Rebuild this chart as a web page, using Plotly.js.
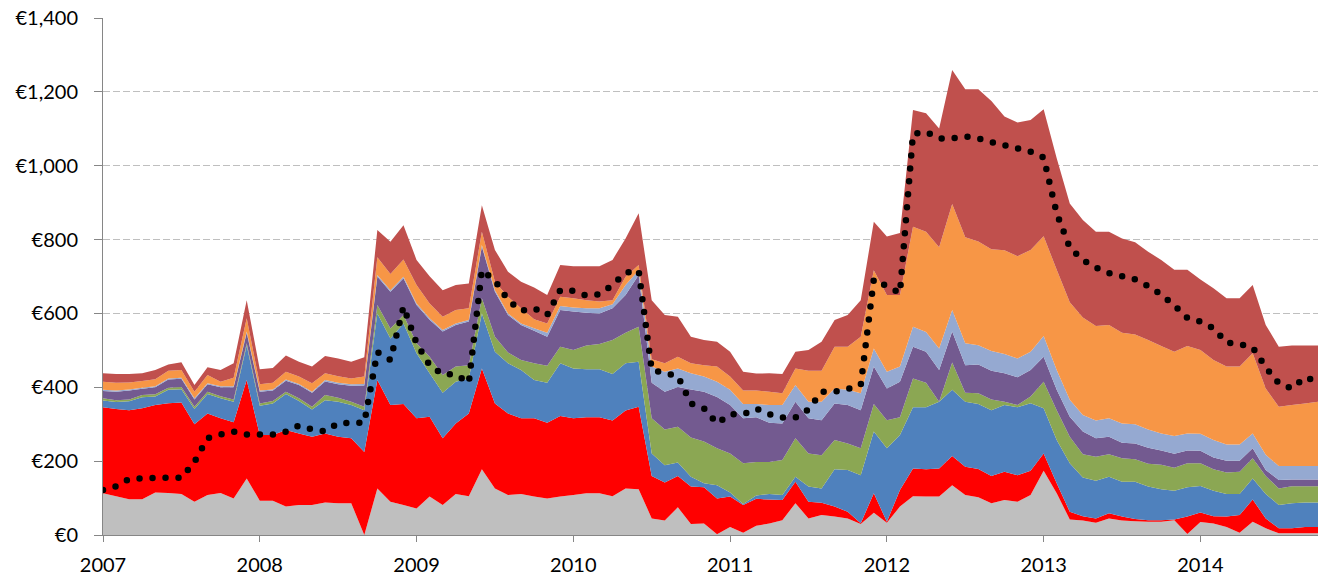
<!DOCTYPE html>
<html><head><meta charset="utf-8">
<script src="https://cdn.plot.ly/plotly-3.0.1.min.js"></script>
<style>
html,body{margin:0;padding:0;background:#fff;}
#chart{width:1324px;height:579px;}
.scatterlayer .js-line{stroke-linecap:round !important;}
</style></head><body><div id="chart"></div>
<script>
// Monthly data, Jan 2007 .. Oct 2014 (94 months)
const yearLabels = ['2007','2008','2009','2010','2011','2012','2013','2014'];
const startYear = 2007;

const gray = [113,105,97,97,115,114,111,90,108,114,99,153,93,93,77,81,81,
  88,86,86,0,126,90,81,72,104,81,111,105,178,126,108,111,
  104,99,104,108,113,113,105,126,124,45,39,75,30,31,2,22,6,25,
  31,40,86,45,54,50,45,30,60,33,77,105,104,104,135,108,102,
  86,95,90,108,174,113,42,39,33,45,39,37,36,36,40,3,35,
  31,22,6,36,18,5,5,5,5];
const red = [233,236,241,246,237,243,248,210,221,202,206,267,178,178,207,194,185,
  187,180,176,225,294,262,274,244,216,181,191,224,273,230,221,205,
  212,205,218,208,206,206,205,211,223,115,103,85,101,98,97,82,75,73,
  65,55,58,45,33,27,18,2,53,3,45,75,74,76,79,77,77,
  74,76,72,66,47,27,21,12,12,14,11,6,4,4,2,47,26,
  20,28,48,60,27,13,13,17,17];
const blue = [18,19,24,30,23,36,36,41,53,54,56,93,79,85,98,88,74,
  90,95,90,113,180,180,218,176,118,123,113,95,149,140,136,131,
  104,108,143,135,130,130,126,128,122,61,47,36,27,11,36,11,3,9,
  15,13,14,41,39,101,113,130,167,199,149,166,168,181,179,176,176,
  178,181,184,183,122,117,131,105,102,99,94,101,91,84,78,79,72,
  69,61,57,57,66,63,68,66,66];
const green = [6,5,5,6,6,6,6,6,6,6,6,6,6,7,6,7,7,
  14,11,9,9,23,27,23,27,45,48,41,36,41,41,29,27,
  45,46,45,50,64,68,92,83,95,95,97,97,106,113,100,106,110,91,
  87,95,104,90,90,79,72,73,75,76,48,78,66,0,74,24,29,
  29,9,6,18,72,81,72,63,65,61,64,61,62,66,62,65,61,
  58,58,60,55,49,45,46,44,44];
const purple = [20,23,24,17,19,22,22,20,20,24,33,29,32,28,30,36,38,
  37,36,43,58,77,100,99,104,100,118,113,118,140,122,102,95,
  88,79,99,104,89,83,86,102,140,96,102,108,130,135,139,131,122,121,
  106,99,99,95,95,99,104,103,101,86,96,86,84,86,84,75,78,
  78,77,75,72,68,55,54,61,50,47,42,43,43,39,38,35,34,
  32,32,30,27,16,23,18,18,18];
const lightBlue = [3,3,3,3,3,3,3,3,3,3,3,3,3,3,3,3,3,
  4,4,4,4,4,4,4,4,4,4,4,4,4,4,4,4,
  7,11,11,11,12,14,11,27,13,44,54,50,44,41,41,41,39,36,
  48,50,45,45,50,41,41,46,49,45,41,54,54,58,58,59,52,
  53,52,51,49,56,54,46,45,48,50,52,52,50,46,48,46,46,
  47,44,44,40,41,38,37,37,37];
const orange = [22,21,19,18,19,21,21,18,22,12,23,36,17,18,21,20,23,
  18,18,16,20,48,44,47,50,40,36,36,32,36,23,45,41,
  24,25,25,25,22,18,11,22,14,20,23,32,27,31,41,36,36,36,
  36,32,45,84,84,113,117,153,212,208,194,271,271,274,287,287,281,
  276,281,277,276,270,271,264,264,256,253,246,243,242,237,228,237,227,
  217,211,211,217,180,160,165,169,174];
const darkRed = [23,24,23,21,25,17,21,18,21,32,39,49,41,40,44,40,45,
  47,48,45,52,74,87,93,68,74,72,68,67,72,86,68,72,
  86,77,86,87,92,96,109,104,140,160,131,108,72,68,67,67,51,46,
  50,52,45,56,78,72,86,99,131,158,168,316,321,322,363,401,412,
  401,362,362,352,344,302,268,264,255,252,255,250,239,233,222,206,191,
  194,185,185,185,172,163,161,157,152];
const trend = [122,132,152,155,155,155,155,198,262,272,280,272,272,272,280,296,286,
  281,303,304,304,495,474,618,519,460,435,435,412,717,689,636,607,
  614,596,663,661,648,652,677,710,716,447,439,430,356,343,302,327,327,342,
  327,318,318,340,388,388,395,406,692,672,655,1086,1092,1074,1074,1079,1074,
  1064,1056,1048,1038,1022,871,778,745,724,709,701,692,674,651,622,588,578,
  560,521,517,508,454,411,397,427,415];

const monthX = gray.map((_, i) => startYear + i / 12);
const tickVals = yearLabels.map(Number);

const layers = [
  {name:'Gray', y:gray, color:'#BFBFBF'},
  {name:'Red', y:red, color:'#FF0000'},
  {name:'Blue', y:blue, color:'#4F81BD'},
  {name:'Green', y:green, color:'#8BA753'},
  {name:'Purple', y:purple, color:'#735A90'},
  {name:'Light blue', y:lightBlue, color:'#95A9D1'},
  {name:'Orange', y:orange, color:'#F79646'},
  {name:'Dark red', y:darkRed, color:'#C0504D'}
];

const traces = layers.map(l => ({
  type:'scatter', x:monthX, y:l.y, name:l.name, stackgroup:'one',
  mode:'none', fillcolor:l.color, hoverinfo:'skip'
}));
traces.push({
  type:'scatter', x:monthX, y:trend, name:'Trend', mode:'lines',
  line:{color:'#000000', width:6.5, dash:'0px,13px'}, hoverinfo:'skip'
});

const font = {family:'Lato, "Open Sans", sans-serif', size:20, color:'#000000'};
const layout = {
  width:1324, height:579,
  margin:{l:103, r:6, t:18, b:44},
  paper_bgcolor:'#ffffff', plot_bgcolor:'#ffffff',
  showlegend:false,
  font:font,
  xaxis:{
    range:[2007, 2007 + 93/12], tickmode:'array', tickvals:tickVals, ticktext:yearLabels,
    showgrid:false, zeroline:false, showline:true, linecolor:'#868686', linewidth:1,
    ticks:'outside', ticklen:6, tickcolor:'#868686', tickfont:font, ticklabelstandoff:6
  },
  yaxis:{
    range:[0,1400], dtick:200, tick0:0, tickprefix:'€', tickformat:',d',
    showgrid:true, gridcolor:'#BFBFBF', griddash:'7px,3px', gridwidth:1,
    zeroline:false, showline:true, linecolor:'#868686', linewidth:1,
    ticks:'outside', ticklen:8, tickcolor:'#868686', tickfont:font, ticklabelstandoff:12
  }
};
Plotly.newPlot('chart', traces, layout, {staticPlot:true, displayModeBar:false});
</script></body></html>
